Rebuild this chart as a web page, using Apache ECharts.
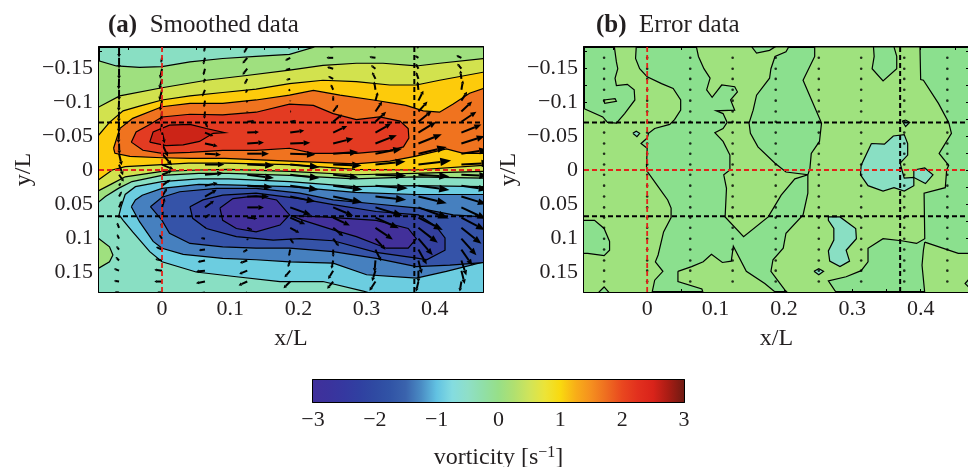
<!DOCTYPE html>
<html>
<head>
<meta charset="utf-8">
<style>
  html, body { margin: 0; background: #fff; }
  #main { width: 968px; height: 467px; }
</style>
<script src="https://cdn.jsdelivr.net/npm/echarts@6/dist/echarts.min.js"></script>
</head>
<body>
<div id="main"></div>
<script>
// axis range of both panels
const xMin = -0.0924, xMax = 0.4707, yMin = -0.1809, yMax = 0.1794;
const xTicks = [-0.05, 0, 0.05, 0.1, 0.15, 0.2, 0.25, 0.3, 0.35, 0.4, 0.45];
const xLabels = [0, 0.1, 0.2, 0.3, 0.4];
const yTicks = [-0.175, -0.15, -0.125, -0.1, -0.075, -0.05, -0.025, 0, 0.025, 0.05, 0.075, 0.1, 0.125, 0.15, 0.175];
const yLabels = [-0.15, -0.1, -0.05, 0, 0.05, 0.1, 0.15];
const barTicks = [-3, -2.5, -2, -1.5, -1, -0.5, 0, 0.5, 1, 1.5, 2, 2.5, 3];
const barLabels = [-3, -2, -1, 0, 1, 2, 3];
const barColors = ["#40309b", "#3b339d", "#3538a0", "#3040a1", "#2f4aa2", "#3154a6", "#3a63ad", "#4a8cc4", "#62c2e2", "#84dce0", "#8fdfc8", "#90dfa8", "#97df88", "#b0e070", "#d0e45a", "#ece438", "#f9d90f", "#f8ae18", "#f58f1f", "#ee6c20", "#e9471f", "#e2301e", "#d9231a", "#a81c14", "#6f1a12"];

// contours of the smoothed field, [x/L, y/L]
const aTealGreen = [[-0.094,-0.161],[-0.067,-0.153],[-0.033,-0.151],[0,-0.152],[0.041,-0.159],[0.089,-0.164],[0.138,-0.167],[0.187,-0.17],[0.224,-0.181],[0.472,-0.181]];
const aGreenLime = [[-0.094,-0.092],[-0.062,-0.109],[0,-0.121],[0.065,-0.132],[0.124,-0.139],[0.187,-0.147],[0.236,-0.154],[0.285,-0.157],[0.324,-0.157],[0.373,-0.153],[0.407,-0.157],[0.472,-0.164]];
const aLimeYellow = [[-0.094,-0.05],[-0.077,-0.07],[-0.057,-0.087],[-0.033,-0.094],[0,-0.103],[0.041,-0.109],[0.089,-0.114],[0.138,-0.119],[0.187,-0.127],[0.236,-0.132],[0.285,-0.13],[0.334,-0.125],[0.373,-0.125],[0.407,-0.132],[0.472,-0.144]];
const aOrange = [[-0.071,-0.032],[-0.062,-0.061],[-0.043,-0.076],[0,-0.093],[0.041,-0.098],[0.089,-0.098],[0.138,-0.103],[0.187,-0.11],[0.222,-0.117],[0.261,-0.11],[0.31,-0.103],[0.358,-0.095],[0.383,-0.087],[0.407,-0.085],[0.427,-0.097],[0.451,-0.113],[0.472,-0.12],[0.472,-0.0245],[0.442,-0.0245],[0.417,-0.031],[0.371,-0.02],[0.334,-0.013],[0.283,-0.009],[0.187,-0.013],[0.092,-0.017],[0.041,-0.017],[0,-0.018],[-0.047,-0.02],[-0.069,-0.0245]];
const aRed = [[-0.045,-0.041],[-0.038,-0.056],[-0.018,-0.067],[0,-0.078],[0.041,-0.082],[0.089,-0.081],[0.138,-0.085],[0.187,-0.097],[0.222,-0.095],[0.251,-0.083],[0.285,-0.074],[0.319,-0.078],[0.349,-0.072],[0.361,-0.061],[0.362,-0.047],[0.354,-0.034],[0.334,-0.029],[0.285,-0.0245],[0.222,-0.0245],[0.187,-0.032],[0.138,-0.029],[0.089,-0.029],[0.041,-0.026],[0,-0.0245],[-0.028,-0.029]];
const aDarkRed = [[-0.018,-0.041],[-0.013,-0.056],[0.011,-0.066],[0.041,-0.067],[0.065,-0.061],[0.092,-0.055],[0.075,-0.054],[0.055,-0.042],[0.031,-0.037],[0.006,-0.036]];
const aYellowLime = [[-0.094,0.015],[-0.073,0],[-0.054,-0.005],[0,-0.008],[0.039,-0.01],[0.092,-0.01],[0.187,-0.008],[0.283,-0.001],[0.371,0],[0.472,-0.007]];
const aLimeGreen = [[-0.094,0.031],[-0.073,0.02],[-0.054,0.01],[0,0.002],[0.054,0],[0.098,-0.001],[0.187,0.002],[0.283,0.007],[0.371,0.005],[0.472,0.002]];
const aGreenTeal = [[-0.094,0.048],[-0.083,0.039],[-0.064,0.027],[-0.044,0.017],[0,0.008],[0.054,0.005],[0.098,0.005],[0.187,0.008],[0.283,0.013],[0.371,0.01],[0.472,0.012]];
const aGreenPatch = [[-0.094,0.1],[-0.077,0.113],[-0.072,0.125],[-0.077,0.135],[-0.094,0.145]];
const aLightBlue = [[-0.063,0.066],[-0.06,0.054],[-0.054,0.036],[-0.039,0.0245],[0,0.017],[0.054,0.013],[0.098,0.013],[0.187,0.017],[0.283,0.0245],[0.371,0.023],[0.472,0.0245],[0.472,0.181],[0.305,0.181],[0.295,0.178],[0.236,0.164],[0.173,0.164],[0.109,0.157],[0.05,0.15],[0,0.135],[-0.018,0.12],[-0.043,0.091],[-0.057,0.074]];
const aBlue = [[-0.045,0.054],[-0.039,0.044],[-0.029,0.037],[0,0.027],[0.054,0.021],[0.098,0.022],[0.187,0.0245],[0.283,0.033],[0.371,0.036],[0.472,0.036],[0.472,0.135],[0.417,0.149],[0.373,0.159],[0.3,0.154],[0.251,0.137],[0.187,0.135],[0.138,0.132],[0.089,0.13],[0.031,0.124],[0,0.115],[-0.013,0.105],[-0.033,0.076]];
const aDeepBlue = [[-0.017,0.054],[0,0.04],[0.026,0.032],[0.08,0.027],[0.138,0.027],[0.202,0.034],[0.251,0.044],[0.314,0.05],[0.376,0.056],[0.427,0.066],[0.472,0.069],[0.472,0.136],[0.422,0.14],[0.373,0.142],[0.314,0.13],[0.251,0.12],[0.187,0.115],[0.138,0.115],[0.089,0.113],[0.041,0.108],[0.011,0.093],[0,0.074]];
const aNavy = [[0.041,0.054],[0.06,0.044],[0.089,0.037],[0.138,0.034],[0.202,0.042],[0.251,0.051],[0.314,0.061],[0.376,0.066],[0.402,0.083],[0.415,0.1],[0.415,0.118],[0.388,0.132],[0.376,0.13],[0.314,0.121],[0.251,0.104],[0.202,0.101],[0.163,0.103],[0.109,0.098],[0.065,0.086],[0.045,0.071]];
const aCoreLeft = [[0.085,0.056],[0.104,0.042],[0.138,0.038],[0.168,0.044],[0.187,0.066],[0.173,0.081],[0.138,0.091],[0.109,0.086],[0.089,0.074]];
const aCoreRight = [[0.189,0.067],[0.236,0.069],[0.314,0.074],[0.361,0.086],[0.373,0.101],[0.361,0.115],[0.329,0.115],[0.285,0.098],[0.251,0.088],[0.207,0.074]];

// contours of the error field
const bLeft = [[-0.048,-0.181],[-0.045,-0.159],[-0.043,-0.149],[-0.047,-0.135],[-0.045,-0.124],[-0.029,-0.126],[-0.019,-0.118],[-0.018,-0.103],[-0.033,-0.083],[-0.045,-0.069],[-0.058,-0.07],[-0.065,-0.078],[-0.094,-0.091],[-0.094,0.181],[0.007,0.181],[0.011,0.162],[0.023,0.149],[0.012,0.135],[0.016,0.125],[0.024,0.091],[0.035,0.07],[0.035,0.056],[0.03,0.044],[0.016,0.0245],[0,0.002],[-0.001,-0.005],[0,-0.032],[-0.009,-0.039],[0,-0.047],[0.002,-0.054],[0.011,-0.061],[0.033,-0.067],[0.04,-0.074],[0.049,-0.088],[0.049,-0.103],[0.038,-0.12],[0.021,-0.127],[0,-0.137],[-0.011,-0.149],[-0.017,-0.164],[-0.016,-0.181]];
const bHoleLeft = [[-0.094,0.074],[-0.077,0.074],[-0.063,0.086],[-0.055,0.105],[-0.055,0.118],[-0.063,0.126],[-0.087,0.1225],[-0.094,0.1225]];
const bHoleFoot = [[-0.072,0.181],[-0.063,0.172],[-0.055,0.181]];
const bSliver = [[-0.064,-0.103],[-0.047,-0.105],[-0.045,-0.101],[-0.062,-0.098]];
const bSpeck = [[-0.021,-0.054],[-0.016,-0.057],[-0.011,-0.054],[-0.015,-0.049]];
const bMiddle = [[0.072,-0.181],[0.075,-0.167],[0.083,-0.149],[0.092,-0.135],[0.087,-0.118],[0.095,-0.107],[0.109,-0.125],[0.128,-0.1225],[0.132,-0.115],[0.122,-0.103],[0.128,-0.088],[0.101,-0.087],[0.111,-0.083],[0.117,-0.07],[0.111,-0.061],[0.099,-0.055],[0.111,-0.042],[0.121,-0.022],[0.121,0],[0.112,0.007],[0.116,0.027],[0.114,0.069],[0.141,0.098],[0.177,0.069],[0.196,0.037],[0.216,0.013],[0.235,0.007],[0.203,0.003],[0.187,-0.01],[0.162,-0.034],[0.151,-0.054],[0.149,-0.069],[0.155,-0.088],[0.16,-0.11],[0.179,-0.135],[0.181,-0.149],[0.187,-0.167],[0.203,-0.174],[0.207,-0.181]];
const bHoleTop = [[0.153,-0.181],[0.16,-0.172],[0.179,-0.176],[0.187,-0.181]];
const bFoot = [[0.045,0.149],[0.065,0.142],[0.082,0.135],[0.094,0.124],[0.11,0.136],[0.123,0.134],[0.126,0.112],[0.145,0.149],[0.172,0.167],[0.189,0.181],[0.082,0.181],[0.08,0.175],[0.045,0.164]];
const bRight = [[0.245,-0.181],[0.245,-0.167],[0.228,-0.132],[0.255,-0.069],[0.252,-0.042],[0.24,-0.0245],[0.238,-0.002],[0.235,0.007],[0.235,0.034],[0.228,0.066],[0.203,0.093],[0.199,0.115],[0.184,0.132],[0.181,0.149],[0.201,0.176],[0.206,0.181],[0.277,0.181],[0.265,0.163],[0.291,0.157],[0.313,0.148],[0.323,0.135],[0.323,0.115],[0.345,0.101],[0.372,0.104],[0.394,0.108],[0.406,0.101],[0.405,0.034],[0.436,0.026],[0.438,0],[0.441,-0.007],[0.427,-0.0245],[0.445,-0.054],[0.441,-0.07],[0.426,-0.098],[0.404,-0.132],[0.4,-0.133],[0.399,-0.181]];
const bHoleRight = [[0.331,-0.181],[0.332,-0.167],[0.329,-0.149],[0.345,-0.131],[0.365,-0.149],[0.365,-0.167],[0.361,-0.181]];
const bCorner = [[0.406,0.106],[0.404,0.118],[0.402,0.14],[0.406,0.181],[0.472,0.181],[0.472,0.1225],[0.455,0.1225]];
const bHoleCorner = [[0.472,0.159],[0.465,0.167],[0.472,0.174]];
const bTealBig = [[0.328,-0.039],[0.347,-0.038],[0.36,-0.05],[0.376,-0.052],[0.381,-0.039],[0.381,-0.022],[0.37,-0.01],[0.374,0.005],[0.376,0.012],[0.39,0.011],[0.39,0.023],[0.376,0.031],[0.361,0.026],[0.345,0.031],[0.323,0.023],[0.312,0.007],[0.313,-0.007]];
const bTealSide = [[0.39,0],[0.406,-0.003],[0.418,0.007],[0.407,0.02],[0.39,0.011]];
const bTealLow = [[0.265,0.069],[0.282,0.069],[0.305,0.086],[0.306,0.101],[0.291,0.118],[0.296,0.134],[0.282,0.142],[0.267,0.134],[0.265,0.119],[0.273,0.103],[0.273,0.086],[0.265,0.074]];
const bTealTiny = [[0.244,0.149],[0.251,0.145],[0.258,0.149],[0.251,0.154]];
const bTealUp = [[0.373,-0.072],[0.378,-0.0735],[0.384,-0.07],[0.378,-0.064]];

// velocity field: one array per column, one entry per row
const gridX = [-0.063, 0, 0.063, 0.125, 0.188, 0.251, 0.313, 0.376, 0.439];
const gridY = [-0.181, -0.165, -0.149, -0.134, -0.118, -0.102, -0.086, -0.071, -0.055, -0.039, -0.024, -0.008, 0.007, 0.023, 0.039, 0.055, 0.07, 0.085, 0.101, 0.117, 0.133, 0.148, 0.164, 0.18];
const velU = [
  [0, 0, 0, -1, 0, -1, -1, -1, -2, 1, 8, 12, 14, 5, 8, 8, 0, -6, -6, -8, -10, -15, -15, -13],
  [0, -3, -6, -8, -8, -6, -3, -3, 8, 18, 30, 35, 30, 25, 15, 8, 3, -2, -8, -18, -20, -23, -23, -15],
  [-3, -5, -5, -4, -8, -3, -2, 8, 25, 38, 48, 58, 55, 38, 35, 27, 15, 1, -12, -18, -22, -27, -27, -15],
  [-10, -14, -14, -8, -5, -2, 0, 22, 35, 50, 65, 80, 80, 75, 65, 50, 30, 15, 2, -13, -22, -24, -26, -10],
  [-6, -15, -15, -12, -6, 0, 3, 18, 42, 60, 75, 88, 88, 85, 75, 62, 45, 27, 10, -4, -7, -17, -20, -8],
  [-10, -20, -18, -15, -7, 0, 15, 27, 42, 60, 75, 85, 75, 88, 88, 60, 50, 30, 17, 0, -5, -15, -18, 0],
  [-5, -18, -13, -10, -4, 7, 20, 32, 47, 64, 80, 90, 92, 97, 92, 82, 70, 52, 30, 17, -3, -10, -18, -5],
  [-5, -10, -8, -7, -3, 15, 27, 40, 53, 70, 85, 98, 93, 93, 85, 91, 73, 58, 43, 25, 10, 0, -7, -2],
  [0, -15, -12, -3, 5, 17, 32, 45, 60, 70, 80, 90, 80, 78, 75, 75, 70, 60, 45, 33, 15, 10, -5, -2]
];
const velV = [
  [32, 32, 32, 32, 32, 32, 32, 32, 32, 32, 35, 32, 20, -8, -15, -20, -10, -15, -13, -10, -10, -6, -2, -1],
  [2, 15, 30, 30, 32, 30, 30, 32, 32, 40, 35, 15, -12, -18, -25, -28, -20, -15, -12, -8, -4, -3, 0, 0],
  [15, 20, 20, 12, 20, 20, 22, 18, 10, 8, 3, 0, -5, -8, -20, -20, -10, -3, -2, 2, 5, 3, 5, 3],
  [18, 17, 18, 16, 10, 6, 3, -2, -2, -3, 0, 3, 10, 5, 0, 0, 3, 7, 5, 8, 8, 10, 12, 5],
  [5, 8, 5, 3, 2, 2, 0, -3, -6, -2, 3, 8, 10, 12, 15, 22, 20, 15, 15, 20, 20, 20, 20, 8],
  [2, 0, -5, -8, -16, -15, -20, -22, -20, -15, -5, 3, 8, 12, 18, 25, 24, 25, 23, 22, 25, 25, 22, 0],
  [1, -3, -10, -20, -25, -25, -30, -30, -27, -25, -15, -9, 3, 8, 10, 25, 32, 35, 33, 35, 35, 32, 28, 5],
  [3, -6, -15, -20, -25, -30, -30, -32, -32, -28, -20, -12, 5, 13, 20, 33, 37, 45, 50, 45, 40, 35, 30, 10],
  [0, -7, -15, -25, -28, -27, -30, -30, -24, -22, -12, -5, 3, 12, 23, 35, 37, 48, 50, 48, 45, 40, 30, 8]
];
const velScale = 0.00049;
// rows of the error panel where the velocity arrows shrink to dots
const dotRows = gridY.slice(1, 23);

const refH = [-0.07, 0.068];
const refV = 0.37;

const TEAL = "#89dfc3", GREEN = "#9fe07f", LIME = "#d2e24e", YELLOW = "#fdcb0b", ORANGE = "#f0731f", RED = "#e33b22", DARKRED = "#cc2417";
const LBLUE = "#6ccde0", BLUE = "#4680bf", DEEP = "#3553a8", NAVY = "#333f9e", INDIGO = "#42309a";
const ERR1 = "#8be08e", ERR2 = "#9fe27e";
const FONT = "Liberation Serif";
const TXT = "#231f20";

// painted in order, later ones cover earlier ones
const aLayers = [
  { pts: aTealGreen, color: GREEN, below: true },
  { pts: aGreenLime, color: LIME, below: true },
  { pts: aLimeYellow, color: YELLOW, below: true },
  { pts: aOrange, color: ORANGE },
  { pts: aRed, color: RED },
  { pts: aDarkRed, color: DARKRED },
  { pts: aYellowLime, color: LIME, below: true },
  { pts: aLimeGreen, color: GREEN, below: true },
  { pts: aGreenTeal, color: TEAL, below: true },
  { pts: aGreenPatch, color: GREEN },
  { pts: aLightBlue, color: LBLUE },
  { pts: aBlue, color: BLUE },
  { pts: aDeepBlue, color: DEEP },
  { pts: aNavy, color: NAVY },
  { pts: aCoreLeft, color: INDIGO },
  { pts: aCoreRight, color: INDIGO }
];
const bLayers = [
  { pts: bLeft, color: ERR2 },
  { pts: bHoleLeft, color: ERR1 },
  { pts: bHoleFoot, color: ERR1 },
  { pts: bSliver, color: ERR2 },
  { pts: bSpeck, color: TEAL },
  { pts: bMiddle, color: ERR2 },
  { pts: bHoleTop, color: ERR1 },
  { pts: bFoot, color: ERR2 },
  { pts: bRight, color: ERR2 },
  { pts: bHoleRight, color: ERR1 },
  { pts: bCorner, color: ERR2 },
  { pts: bHoleCorner, color: ERR1 },
  { pts: bTealBig, color: TEAL },
  { pts: bTealSide, color: TEAL },
  { pts: bTealLow, color: TEAL },
  { pts: bTealTiny, color: TEAL },
  { pts: bTealUp, color: TEAL }
];

const arrows = [];
gridX.forEach((x, c) => {
  gridY.forEach((y, r) => {
    arrows.push([x, y, velU[c][r], velV[c][r]]);
  });
});
const dots = [];
gridX.forEach(x => dotRows.forEach(y => dots.push([x, y])));

function contourSeries(layers, axisIdx) {
  return {
    type: "custom",
    xAxisIndex: axisIdx.x,
    yAxisIndex: axisIdx.y,
    clip: true,
    silent: true,
    z: 2,
    data: layers.map((l, i) => [i]),
    renderItem: function (params, api) {
      const layer = layers[api.value(0)];
      const line = layer.pts.map(p => api.coord(p));
      let area = line;
      if (layer.below) {
        area = line.concat([api.coord([xMax + 0.01, yMax + 0.01]), api.coord([xMin - 0.01, yMax + 0.01])]);
      }
      const edge = layer.below ? line : line.concat([line[0]]);
      return {
        type: "group",
        children: [
          { type: "polygon", shape: { points: area }, style: { fill: layer.color, stroke: null } },
          { type: "polyline", shape: { points: edge }, style: { fill: null, stroke: "#000", lineWidth: 1.2 } }
        ]
      };
    }
  };
}

function arrowSeries() {
  return {
    type: "custom",
    xAxisIndex: 0,
    yAxisIndex: 0,
    clip: true,
    silent: true,
    z: 3,
    data: arrows,
    renderItem: function (params, api) {
      const x = api.value(0), y = api.value(1);
      const a = api.coord([x, y]);
      const b = api.coord([x + api.value(2) * velScale, y + api.value(3) * velScale]);
      const dx = b[0] - a[0], dy = b[1] - a[1];
      const len = Math.sqrt(dx * dx + dy * dy) || 1;
      const ux = dx / len, uy = dy / len;
      const h = 0.33 * len, w = 0.1 * len + 0.8;
      const base = [b[0] - ux * h, b[1] - uy * h];
      return {
        type: "group",
        children: [
          { type: "line", shape: { x1: a[0], y1: a[1], x2: base[0], y2: base[1] }, style: { stroke: "#000", lineWidth: 2 } },
          { type: "polygon", shape: { points: [b, [base[0] - uy * w, base[1] + ux * w], [base[0] + uy * w, base[1] - ux * w]] }, style: { fill: "#000" } }
        ]
      };
    }
  };
}

function refLines(axisIdx) {
  const base = { type: "line", xAxisIndex: axisIdx.x, yAxisIndex: axisIdx.y, symbol: "none", silent: true, z: 4, animation: false };
  const black = { color: "#000", width: 2, type: [5, 3] };
  const red = { color: "#e2231a", width: 1.8, type: [5, 3] };
  return [
    Object.assign({}, base, { data: [[xMin, refH[0]], [xMax, refH[0]]], lineStyle: black }),
    Object.assign({}, base, { data: [[xMin, refH[1]], [xMax, refH[1]]], lineStyle: black }),
    Object.assign({}, base, { data: [[refV, yMin], [refV, yMax]], lineStyle: black }),
    Object.assign({}, base, { data: [[0, yMin], [0, yMax]], lineStyle: red }),
    Object.assign({}, base, { data: [[xMin, 0], [xMax, 0]], lineStyle: red })
  ];
}

const minusFmt = v => String(v).replace("-", "\u2212");
const axisLine = { show: true, onZero: false, lineStyle: { color: "#000", width: 2 } };

function xAxes(grid, name) {
  const tick = { show: true, inside: true, length: 3, customValues: xTicks, lineStyle: { color: "#000", width: 1 } };
  return [
    {
      type: "value", gridIndex: grid, min: xMin, max: xMax, position: "bottom", splitLine: { show: false },
      axisLine, axisTick: tick,
      axisLabel: { customValues: xLabels, formatter: minusFmt, fontFamily: FONT, fontSize: 22, color: TXT, margin: 6 },
      name, nameLocation: "middle", nameGap: 35, nameTextStyle: { fontFamily: FONT, fontSize: 24, color: TXT }
    },
    {
      type: "value", gridIndex: grid, min: xMin, max: xMax, position: "top", splitLine: { show: false },
      axisLine, axisTick: tick, axisLabel: { show: false }
    }
  ];
}
function yAxes(grid, name) {
  const tick = { show: true, inside: true, length: 3, customValues: yTicks, lineStyle: { color: "#000", width: 1 } };
  return [
    {
      type: "value", gridIndex: grid, min: yMin, max: yMax, inverse: true, position: "left", splitLine: { show: false },
      axisLine, axisTick: tick,
      axisLabel: { customValues: yLabels, formatter: minusFmt, fontFamily: FONT, fontSize: 22, color: TXT, margin: 6 },
      name, nameLocation: "middle", nameGap: 63, nameTextStyle: { fontFamily: FONT, fontSize: 24, color: TXT }
    },
    {
      type: "value", gridIndex: grid, min: yMin, max: yMax, inverse: true, position: "right", splitLine: { show: false },
      axisLine, axisTick: tick, axisLabel: { show: false }
    }
  ];
}

const titleRich = { b: { fontFamily: FONT, fontWeight: "bold", fontSize: 25, color: TXT } };
const chart = echarts.init(document.getElementById("main"), null, { renderer: "canvas" });
chart.setOption({
  animation: false,
  backgroundColor: "#fff",
  title: [
    { text: "{b|(a)}  Smoothed data", left: 103, top: 8, textStyle: { fontFamily: FONT, fontWeight: "normal", fontSize: 25, color: TXT, rich: titleRich } },
    { text: "{b|(b)}  Error data", left: 591, top: 8, textStyle: { fontFamily: FONT, fontWeight: "normal", fontSize: 25, color: TXT, rich: titleRich } }
  ],
  grid: [
    { left: 99, top: 47, width: 384, height: 245, backgroundColor: TEAL, show: true, borderWidth: 0, outerBoundsMode: "none" },
    { left: 584, top: 47, width: 385, height: 245, backgroundColor: ERR1, show: true, borderWidth: 0, outerBoundsMode: "none" },
    { left: 313, top: 380, width: 371, height: 22, outerBoundsMode: "none" }
  ],
  xAxis: xAxes(0, "x/L").concat(xAxes(1, "x/L")).concat([
    {
      type: "value", gridIndex: 2, min: -3, max: 3, interval: 1, position: "bottom", splitLine: { show: false },
      axisLine, axisTick: { show: true, inside: true, length: 3, customValues: barTicks, lineStyle: { color: "#000" } },
      axisLabel: { customValues: barLabels, formatter: minusFmt, fontFamily: FONT, fontSize: 22, color: TXT, margin: 7 },
      name: "{t|vorticity [s}{s|\u22121}{t|]}", nameLocation: "middle", nameGap: 43,
      nameTextStyle: { fontFamily: FONT, fontSize: 24, color: TXT, rich: { t: { fontFamily: FONT, fontSize: 24, color: TXT }, s: { fontFamily: FONT, fontSize: 16, color: TXT, padding: [0, 0, 9, 0] } } }
    },
    {
      type: "value", gridIndex: 2, min: -3, max: 3, interval: 1, position: "top", splitLine: { show: false },
      axisLine, axisTick: { show: true, inside: true, length: 3, customValues: barTicks, lineStyle: { color: "#000" } }, axisLabel: { show: false }
    }
  ]),
  yAxis: yAxes(0, "y/L").concat(yAxes(1, "y/L")).concat([
    { type: "value", gridIndex: 2, min: 0, max: 1, position: "left", splitLine: { show: false }, axisLine, axisTick: { show: false }, axisLabel: { show: false } },
    { type: "value", gridIndex: 2, min: 0, max: 1, position: "right", splitLine: { show: false }, axisLine, axisTick: { show: false }, axisLabel: { show: false } }
  ]),
  series: [
    contourSeries(aLayers, { x: 0, y: 0 }),
    arrowSeries(),
    contourSeries(bLayers, { x: 2, y: 2 }),
    {
      type: "scatter", xAxisIndex: 2, yAxisIndex: 2, symbol: "circle", symbolSize: 2.6, silent: true, z: 3,
      itemStyle: { color: "#000" }, data: dots
    },
    {
      type: "custom", xAxisIndex: 4, yAxisIndex: 4, silent: true, z: 2, data: [[-3, 3]],
      renderItem: function (params, api) {
        const p0 = api.coord([api.value(0), 0]), p1 = api.coord([api.value(1), 1]);
        const stops = barColors.map((c, i) => ({ offset: i / (barColors.length - 1), color: c }));
        return {
          type: "rect",
          shape: { x: p0[0], y: p1[1], width: p1[0] - p0[0], height: p0[1] - p1[1] },
          style: { fill: new echarts.graphic.LinearGradient(0, 0, 1, 0, stops) }
        };
      }
    }
  ].concat(refLines({ x: 0, y: 0 })).concat(refLines({ x: 2, y: 2 }))
});
</script>
</body>
</html>
